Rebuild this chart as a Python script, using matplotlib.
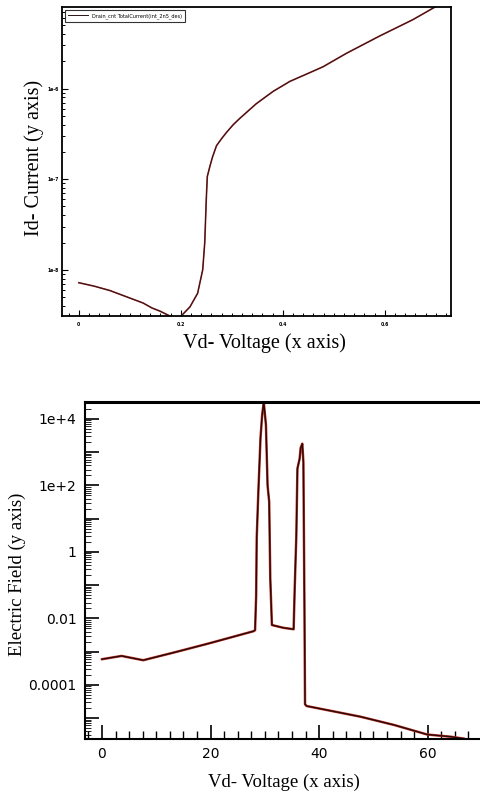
import numpy as np
import matplotlib
matplotlib.use('Agg')
import matplotlib.pyplot as plt
from matplotlib.ticker import FixedLocator, FixedFormatter, LogLocator, MultipleLocator, NullFormatter

# Id-Vd curve (top panel)
vd_top = [0.0, 0.03, 0.061, 0.095, 0.126, 0.143, 0.159, 0.178, 0.19, 0.201, 0.218, 0.233, 0.243, 0.247,
          0.250, 0.252, 0.257, 0.262, 0.270, 0.280, 0.290, 0.303, 0.316, 0.348, 0.381, 0.414, 0.459,
          0.479, 0.525, 0.590, 0.655, 0.698, 0.72]
id_top = [7.2e-9, 6.6e-9, 5.9e-9, 5.0e-9, 4.3e-9, 3.8e-9, 3.5e-9, 3.1e-9, 2.6e-9, 3.1e-9, 3.9e-9, 5.5e-9, 1.0e-8, 2.0e-8,
          6.0e-8, 1.07e-7, 1.38e-7, 1.74e-7, 2.34e-7, 2.8e-7, 3.3e-7, 4.0e-7, 4.7e-7, 6.8e-7, 9.3e-7, 1.2e-6, 1.55e-6,
          1.74e-6, 2.45e-6, 3.8e-6, 5.75e-6, 7.9e-6, 9.1e-6]

# Electric field (bottom panel)
vd_bot = [0, 3.6, 7.6, 13.7, 19.9, 27.9, 28.2, 28.4, 28.5, 28.8, 29.2, 29.5, 29.8, 30.2,
          30.5, 30.8, 31.0, 31.3, 33.4, 35.3, 35.5, 35.8, 36.0, 36.4, 36.6, 36.9, 37.1,
          37.3, 37.4, 37.7, 47.6, 53.8, 59.9, 64.2, 66.7, 68.0]
ef_bot = [5.9e-4, 7.4e-4, 5.5e-4, 9.8e-4, 1.8e-3, 4.1e-3, 4.4e-3, 0.05, 2.6, 63, 2700, 1.3e4, 3.2e4, 6600,
          100, 32, 0.16, 6.3e-3, 5.2e-3, 4.7e-3, 0.08, 3.2, 320, 630, 1350, 1800, 500,
          0.016, 2.6e-5, 2.3e-5, 1.1e-5, 6.2e-6, 3.2e-6, 2.75e-6, 2.4e-6, 2.0e-6]

top_yticks = [1e-8, 1e-7, 1e-6]
top_ylabels = ['1e-8', '1e-7', '1e-6']
top_xticks = [0, 0.2, 0.4, 0.6]
top_xlabels = ['0', '0.2', '0.4', '0.6']
bot_yticks = [1e-5, 1e-4, 1e-3, 1e-2, 1e-1, 1, 10, 100, 1e3, 1e4]
bot_ylabels = ['', '0.0001', '', '0.01', '', '1', '', '1e+2', '', '1e+4']
bot_xticks = [0, 20, 40, 60]

W, H = 480, 794
fig = plt.figure(figsize=(W / 100, H / 100), dpi=100)

def box(l, t, r, b):
    return [l / W, 1 - b / H, (r - l) / W, (b - t) / H]

serif = 'Liberation Serif'

# ---- top panel ----
ax1 = fig.add_axes(box(62, 7, 451, 316))
ax1.plot(vd_top, id_top, color='#b03030', lw=1.2)
ax1.plot(vd_top, id_top, color='#2a1414', lw=0.7, label='Drain_cnt TotalCurrent(int_2n5_des)')
ax1.set_yscale('log')
ax1.set_xlim(-0.033, 0.730)
ax1.set_ylim(10 ** -8.51, 10 ** -5.1)
ax1.yaxis.set_major_locator(FixedLocator(top_yticks))
ax1.yaxis.set_major_formatter(FixedFormatter(top_ylabels))
ax1.yaxis.set_minor_locator(LogLocator(base=10, subs=np.arange(2, 10), numticks=100))
ax1.yaxis.set_minor_formatter(NullFormatter())
ax1.xaxis.set_major_locator(FixedLocator(top_xticks))
ax1.xaxis.set_major_formatter(FixedFormatter(top_xlabels))
ax1.xaxis.set_minor_locator(MultipleLocator(0.02))
ax1.tick_params(which='both', direction='in', labelsize=3.3, pad=2)
ax1.tick_params(which='major', length=4, width=0.8)
ax1.tick_params(which='minor', length=2.5, width=0.7)
ax1.tick_params(axis='x', pad=4)
for lab in ax1.get_xticklabels() + ax1.get_yticklabels():
    lab.set_fontweight('bold')
for s in ax1.spines.values():
    s.set_linewidth(1.3)
leg = ax1.legend(loc='upper left', fontsize=3.6, frameon=True, fancybox=False,
                 edgecolor='black', handlelength=4, borderpad=0.6, borderaxespad=0.6)
leg.get_frame().set_linewidth(0.8)
ax1.set_xlabel('Vd- Voltage (x axis)', family=serif, fontsize=14.5, va='center')
ax1.set_ylabel('Id- Current (y axis)', family=serif, fontsize=14.5, va='center')
ax1.xaxis.set_label_coords(0.52, -0.088)
ax1.yaxis.set_label_coords(-0.072, 0.51)

# ---- bottom panel ----
ax2 = fig.add_axes(box(85, 402, 482, 739))
ax2.plot(vd_bot, ef_bot, color='#c0392b', lw=1.8)
ax2.plot(vd_bot, ef_bot, color='#2a0808', lw=1.0)
ax2.set_yscale('log')
ax2.set_xlim(-3.13, 70.0)
ax2.set_ylim(10 ** -5.63, 10 ** 4.51)
ax2.yaxis.set_major_locator(FixedLocator(bot_yticks))
ax2.yaxis.set_major_formatter(FixedFormatter(bot_ylabels))
ax2.yaxis.set_minor_locator(LogLocator(base=10, subs=np.arange(2, 10), numticks=100))
ax2.yaxis.set_minor_formatter(NullFormatter())
ax2.xaxis.set_major_locator(FixedLocator(bot_xticks))
ax2.xaxis.set_minor_locator(MultipleLocator(2.5))
ax2.tick_params(which='both', direction='in', labelsize=10, pad=6)
ax2.tick_params(which='major', length=10, width=1.2)
ax2.tick_params(which='minor', length=4, width=0.6)
ax2.tick_params(axis='x', which='minor', length=6, width=1.0)
ax2.spines['right'].set_visible(False)
ax2.spines['top'].set_linewidth(2.2)
ax2.spines['left'].set_linewidth(1.5)
ax2.spines['bottom'].set_linewidth(1.5)
ax2.set_xlabel('Vd- Voltage (x axis)', family=serif, fontsize=13.5, va='center')
ax2.set_ylabel('Electric Field (y axis)', family=serif, fontsize=13.5, va='center')
ax2.xaxis.set_label_coords(0.5, -0.128)
ax2.yaxis.set_label_coords(-0.171, 0.49)

fig.savefig('out.png', dpi=100)
